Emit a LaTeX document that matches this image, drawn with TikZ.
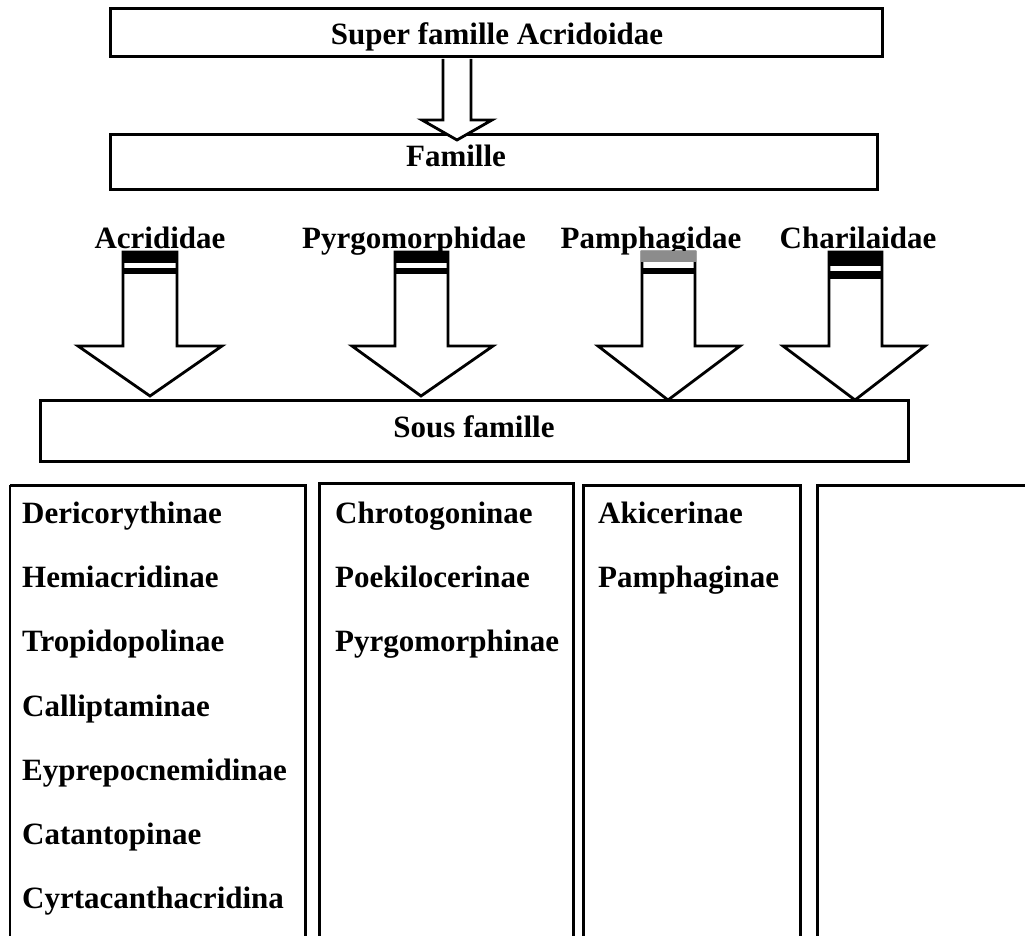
\documentclass[tikz,border=0pt]{standalone}
\usepackage{fontspec}
\setmainfont{Liberation Serif}
\begin{document}
\begin{tikzpicture}[x=1pt,y=-1pt,
  box/.style={draw=black,line width=3pt},
  lbl/.style={font=\fontsize{31}{36}\selectfont\bfseries,inner sep=0pt,anchor=base},
  item/.style={font=\fontsize{31}{36}\selectfont\bfseries,inner sep=0pt,anchor=base west},
  barrow/.style={draw=black,line width=2.8pt,fill=white,line join=miter}]
\useasboundingbox (0,0) rectangle (1025,936);
% top box
\draw[box] (110,9) rectangle (882,57);
\node[lbl] (super) at (497,45) {Super famille Acridoidae};
% Famille box
\draw[box] (110,135) rectangle (877,190);
\node[lbl] (famille) at (456,167) {Famille};
% top hollow arrow
\draw[barrow] (443,59) -- (443,120) -- (422,120) -- (457,140) -- (492,120) -- (471,120) -- (471,59);
% family labels
\node[lbl] (acr) at (160,248) {Acrididae};
\node[lbl] (pyr) at (414,248) {Pyrgomorphidae};
\node[lbl] (pam) at (651,248) {Pamphagidae};
\node[lbl] (cha) at (858,248) {Charilaidae};
% big arrows
\foreach \l/\r/\hl/\hr/\tx/\ty in {123/177/78/222/150/396, 395/448/352/493/421/396, 642/695/598/740/668/400, 829/882/783/925/855/400}{
  \draw[barrow] (\l,252) -- (\l,346) -- (\hl,346) -- (\tx,\ty) -- (\hr,346) -- (\r,346) -- (\r,252) -- cycle;
}
\fill[black] (121.6,251) rectangle (178.4,263);
\fill[black] (121.6,268) rectangle (178.4,274);
\fill[black] (393.6,251) rectangle (449.4,263);
\fill[black] (393.6,268) rectangle (449.4,274);
\fill[black!45] (640.6,251) rectangle (696.4,262);
\fill[black] (640.6,268) rectangle (696.4,274);
\fill[black] (827.6,251) rectangle (883.4,266);
\fill[black] (827.6,271) rectangle (883.4,279);
% Sous famille box
\draw[box] (40,400) rectangle (908,461);
\node[lbl] (sous) at (474,437) {Sous famille};
% columns
\draw[line width=1.2pt] (10,940) -- (10,485);
\draw[box] (10,485) -- (305,485) -- (305,940);
\draw[box] (319,940) -- (319,483) -- (573,483) -- (573,940);
\draw[box] (583,940) -- (583,485) -- (800,485) -- (800,940);
\draw[box] (817,940) -- (817,485) -- (1030,485);
% items
\node[item] (d1) at (22,523) {Dericorythinae};
\node[item] (d2) at (22,587) {Hemiacridinae};
\node[item] (d3) at (22,651) {Tropidopolinae};
\node[item] (d4) at (22,716) {Calliptaminae};
\node[item] (d5) at (22,780) {Eyprepocnemidinae};
\node[item] (d6) at (22,844) {Catantopinae};
\node[item] (d7) at (22,908) {Cyrtacanthacridina};
\node[item] (p1) at (335,523) {Chrotogoninae};
\node[item] (p2) at (335,587) {Poekilocerinae};
\node[item] (p3) at (335,651) {Pyrgomorphinae};
\node[item] (m1) at (598,523) {Akicerinae};
\node[item] (m2) at (598,587) {Pamphaginae};
\end{tikzpicture}
\end{document}
